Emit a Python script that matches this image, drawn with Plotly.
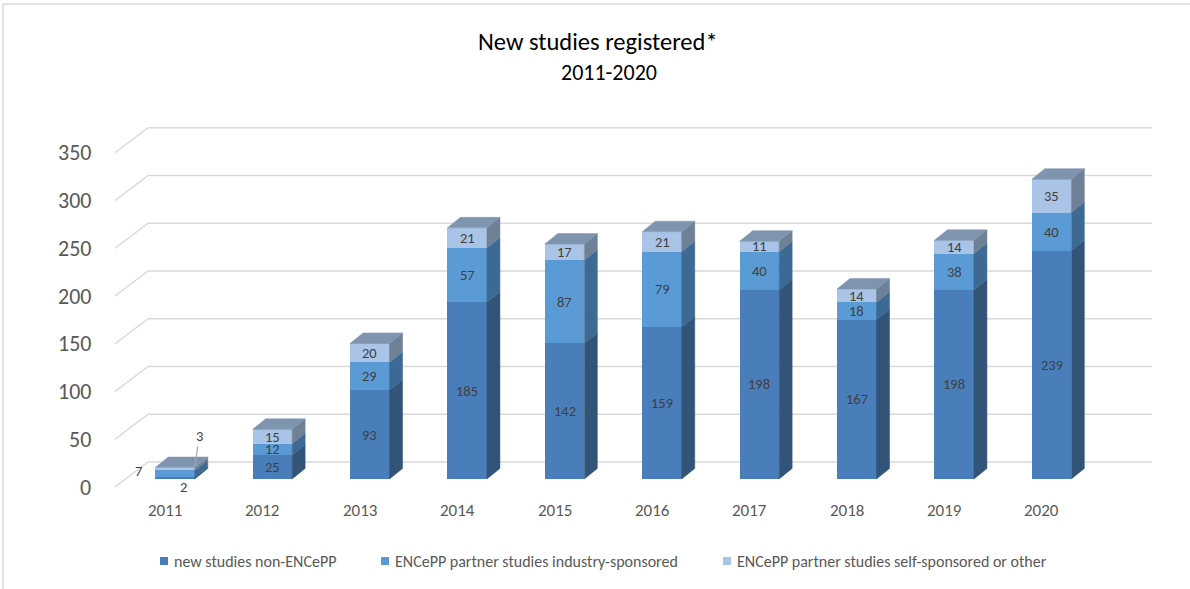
import plotly.graph_objects as go

# ---------------- data ----------------
years = ["2011", "2012", "2013", "2014", "2015", "2016", "2017", "2018", "2019", "2020"]
non_encepp = [2, 25, 93, 185, 142, 159, 198, 167, 198, 239]
industry = [7, 12, 29, 57, 87, 79, 40, 18, 38, 40]
self_sponsored = [3, 15, 20, 21, 17, 21, 11, 14, 14, 35]
y_ticks = [0, 50, 100, 150, 200, 250, 300, 350]

series_names = ["new studies non-ENCePP",
                "ENCePP partner studies industry-sponsored",
                "ENCePP partner studies self-sponsored or other"]
series_values = [non_encepp, industry, self_sponsored]
front_colors = ["#4A7EBB", "#5B9BD5", "#A9C4E6"]
side_colors = ["#325479", "#3D6A94", "#6F8197"]
top_color = "#7F94AE"

# ---------------- geometry helpers ----------------
W, H = 1190, 589
X0PX, XSTEP = 175.0, 97.4      # pixel of first category, pixels per category
Y0PX, YPX = 479.0, 0.955       # pixel of value 0, pixels per unit
FONT = "Calibri, Carlito, Lato, sans-serif"


def xv(px):
    return (px - X0PX) / XSTEP


def yv(py):
    return (Y0PX - py) / YPX


BAR_W = 39.5 / XSTEP
DX = 13.0 / XSTEP
DY = 10.5 / YPX

idx = list(range(len(years)))

fig = go.Figure()

# depth faces (sides) per series
bases = [[0] * len(years)]
for s in range(1, 3):
    bases.append([bases[s - 1][i] + series_values[s - 1][i] for i in idx])

for s in range(3):
    xs, ys = [], []
    for i in idx:
        b = bases[s][i]
        t = b + series_values[s][i]
        xr = i + BAR_W / 2
        xs += [xr, xr + DX, xr + DX, xr, xr, None]
        ys += [b, b + DY, t + DY, t, b, None]
    fig.add_trace(go.Scatter(x=xs, y=ys, mode="lines", fill="toself",
                             fillcolor=side_colors[s],
                             line=dict(color=side_colors[s], width=0.5),
                             hoverinfo="skip", showlegend=False))

# top faces
xs, ys = [], []
for i in idx:
    t = bases[2][i] + self_sponsored[i]
    xl, xr = i - BAR_W / 2, i + BAR_W / 2
    xs += [xl, xl + DX, xr + DX, xr, xl, None]
    ys += [t, t + DY, t + DY, t, t, None]
fig.add_trace(go.Scatter(x=xs, y=ys, mode="lines", fill="toself",
                         fillcolor=top_color,
                         line=dict(color=top_color, width=0.5),
                         hoverinfo="skip", showlegend=False))

# front faces
for s in range(3):
    fig.add_trace(go.Bar(x=idx, y=series_values[s], name=series_names[s],
                         width=BAR_W, marker=dict(color=front_colors[s], line=dict(width=0)),
                         hoverinfo="skip", showlegend=False))

annotations = []
shapes = []

# gridlines (perspective: front diagonal + back horizontal)
GRID = "#D9D9D9"
for v in y_ticks:
    y_front = v + yv(487)
    y_back = v + yv(462)
    shapes.append(dict(type="line", xref="x", yref="y", x0=xv(115), x1=xv(148),
                       y0=y_front, y1=y_back, line=dict(color=GRID, width=1.5), layer="below"))
    shapes.append(dict(type="line", xref="x", yref="y", x0=xv(148), x1=xv(1152),
                       y0=y_back, y1=y_back, line=dict(color=GRID, width=1.5), layer="below"))
    annotations.append(dict(x=93 / W, xref="paper", y=y_front, yref="y", text=str(v),
                            showarrow=False, xanchor="right", yanchor="middle",
                            font=dict(family=FONT, size=22, color="#595959")))

# year labels
for i, yr in enumerate(years):
    annotations.append(dict(x=i + xv(165) - xv(175), y=yv(510), text=yr, showarrow=False,
                            xanchor="center", yanchor="middle",
                            font=dict(family=FONT, size=17, color="#595959")))

# data labels
LBL = dict(family=FONT, size=14.5, color="#404040")
for s in range(3):
    for i in idx:
        val = series_values[s][i]
        if i == 0:
            continue
        annotations.append(dict(x=i, y=bases[s][i] + val / 2, text=str(val), showarrow=False,
                                xanchor="center", yanchor="middle", font=LBL))
# 2011: labels placed outside the small bar
annotations.append(dict(x=xv(183), y=yv(487), text=str(non_encepp[0]), showarrow=False,
                        xanchor="center", yanchor="middle", font=LBL))
annotations.append(dict(x=xv(138), y=yv(471), text=str(industry[0]), showarrow=False,
                        xanchor="center", yanchor="middle", font=LBL))
annotations.append(dict(x=xv(195), y=yv(467), text=str(self_sponsored[0]), showarrow=True,
                        arrowhead=0, arrowwidth=1.2, arrowcolor="#A6A6A6", ax=4, ay=-31,
                        font=LBL))

# title
annotations.append(dict(x=598 / W, xref="paper", y=1 - 42 / H, yref="paper",
                        text="New studies registered*", showarrow=False,
                        xanchor="center", yanchor="middle",
                        font=dict(family=FONT, size=24.5, color="#000000")))
annotations.append(dict(x=609 / W, xref="paper", y=1 - 73 / H, yref="paper",
                        text="2011-2020", showarrow=False,
                        xanchor="center", yanchor="middle",
                        font=dict(family=FONT, size=22, color="#000000")))

# legend (custom)
leg_sq = [160, 381, 723]
leg_tx = [172, 393, 735]
for s in range(3):
    shapes.append(dict(type="rect", xref="paper", yref="paper",
                       x0=leg_sq[s] / W, x1=(leg_sq[s] + 8) / W,
                       y0=1 - 565 / H, y1=1 - 557 / H,
                       fillcolor=front_colors[s], line=dict(width=0)))
    annotations.append(dict(x=leg_tx[s] / W, xref="paper", y=1 - 561 / H, yref="paper",
                            text=series_names[s], showarrow=False, xanchor="left",
                            yanchor="middle", font=dict(family=FONT, size=16, color="#595959")))

# outer border (left and top)
shapes.append(dict(type="line", xref="paper", yref="paper", x0=3 / W, x1=3 / W,
                   y0=0, y1=1 - 4 / H, line=dict(color=GRID, width=1.5)))
shapes.append(dict(type="line", xref="paper", yref="paper", x0=3 / W, x1=1,
                   y0=1 - 4 / H, y1=1 - 4 / H, line=dict(color=GRID, width=1.5)))

fig.update_layout(
    width=W, height=H,
    margin=dict(l=0, r=0, t=0, b=0),
    barmode="stack",
    bargap=0,
    paper_bgcolor="white", plot_bgcolor="white",
    xaxis=dict(range=[xv(0), xv(W)], visible=False, fixedrange=True),
    yaxis=dict(range=[yv(H), yv(0)], visible=False, fixedrange=True),
    showlegend=False,
    shapes=shapes,
    annotations=annotations,
    font=dict(family=FONT),
)

fig.write_html("out.html", config={"displayModeBar": False},
               post_script="document.body.style.margin='0';document.body.style.overflow='hidden';")
